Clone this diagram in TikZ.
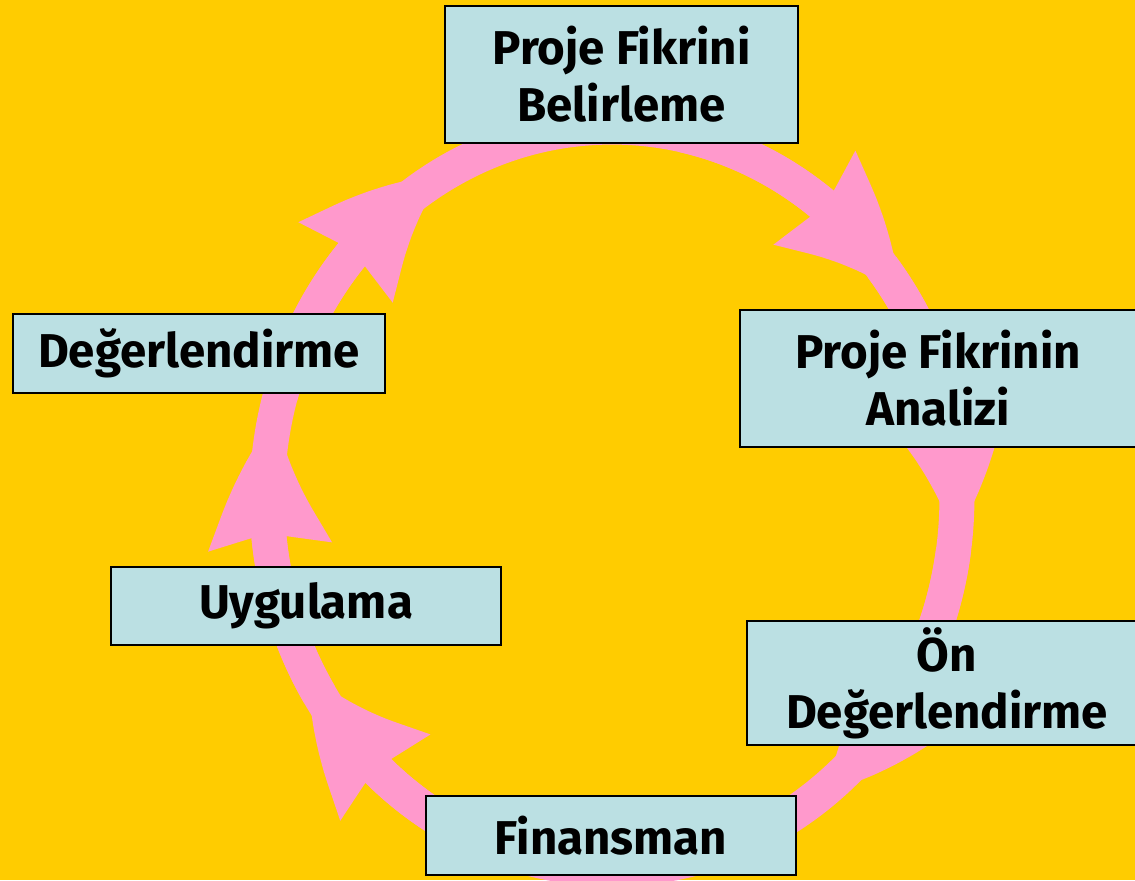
\documentclass[tikz,border=0pt]{standalone}
\usepackage{fontspec}
\setmainfont{Fira Sans}
\usetikzlibrary{arrows.meta,bending}
\definecolor{bgyellow}{HTML}{FFCC00}
\definecolor{ringpink}{HTML}{FF99CC}
\definecolor{boxblue}{HTML}{BBE0E3}
\tikzset{
  stagebox/.style={draw=black, line width=0.9pt, fill=boxblue, align=center,
    inner sep=0pt, font=\bfseries\fontsize{27}{32.5}\selectfont},
  ringline/.style={ringpink, line width=0.7cm},
  cyclearrow/.style={ringline, -{Stealth[length=2.6cm, width=2.3cm, inset=0.2cm, bend]}},
  ringarc/.style={x radius=6.9cm, y radius=7.42cm}
}
\begin{document}
\begin{tikzpicture}[x=0.02cm, y=-0.02cm]
  \fill[bgyellow] (0,0) rectangle (1135,880);
  \useasboundingbox (0,0) rectangle (1135,880);
  \clip (0,0) rectangle (1135,880);
  % ring
  \coordinate (mid) at (612,498);
  \draw[ringline] (mid) ellipse [ringarc];
  \path
    (mid) ++(78:6.9cm and 7.42cm) coordinate (fromA)
    (mid) ++(38.5:6.9cm and 7.42cm) coordinate (fromB)
    (mid) ++(-8:6.9cm and 7.42cm) coordinate (fromC)
    (mid) ++(253:6.9cm and 7.42cm) coordinate (fromD)
    (mid) ++(212:6.9cm and 7.42cm) coordinate (fromE)
    (mid) ++(164:6.9cm and 7.42cm) coordinate (fromF);
  \begin{scope}[cyclearrow]
    \draw (fromA) arc[start angle=78, end angle=33, ringarc];
    \draw (fromB) arc[start angle=38.5, end angle=-6.5, ringarc];
    \draw (fromC) arc[start angle=-8, end angle=-53, ringarc];
    \draw (fromD) arc[start angle=253, end angle=208, ringarc];
    \draw (fromE) arc[start angle=212, end angle=167, ringarc];
    \draw (fromF) arc[start angle=164, end angle=119, ringarc];
  \end{scope}
  % stages
  \path
    (621.5,74.5) node[stagebox, minimum width=7.06cm, minimum height=2.74cm] (belirleme) {Proje Fikrini\\Belirleme}
    (938,378.5) node[stagebox, minimum width=7.92cm, minimum height=2.74cm] (analiz) {Proje Fikrinin\\Analizi}
    (947,683) node[stagebox, minimum width=8cm, minimum height=2.48cm] (ondeger) {Ön\\Değerlendirme}
    (611,835.5) node[stagebox, minimum width=7.4cm, minimum height=1.58cm] (finans) {Finansman}
    (306,606) node[stagebox, minimum width=7.8cm, minimum height=1.56cm] (uygulama) {Uygulama}
    (199,353.5) node[stagebox, minimum width=7.44cm, minimum height=1.58cm] (deger) {Değerlendirme};
\end{tikzpicture}
\end{document}
